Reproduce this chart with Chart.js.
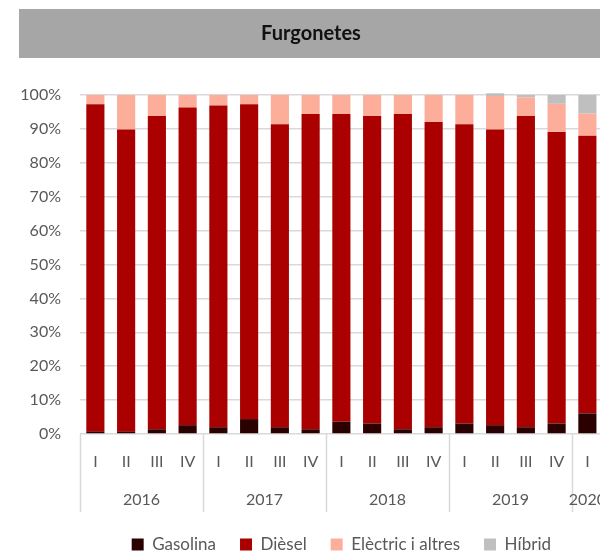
<!DOCTYPE html>
<html>
<head>
<meta charset="utf-8">
<script src="https://cdn.jsdelivr.net/npm/chart.js@4/dist/chart.umd.min.js"></script>
<style>
  html,body{margin:0;padding:0;background:#fff;overflow:hidden;}
  #wrap{width:610px;height:580px;position:relative;}
</style>
</head>
<body>
<div id="wrap"><canvas id="c"></canvas></div>
<script>
const title = "Furgonetes";
const quarters = ["I","II","III","IV","I","II","III","IV","I","II","III","IV","I","II","III","IV","I"];
const years = ["2016","2017","2018","2019","2020"];

const gasolina = [0.7,0.7,1.4,2.6, 2.0,4.4,2.0,1.4, 3.6,3.1,1.4,2.0, 3.1,2.6,2.0,3.1, 6.1];
const diesel   = [96.6,89.1,92.4,93.7, 94.9,92.9,89.4,93.0, 90.8,90.7,93.0,90.0, 88.3,87.2,91.8,86.0, 81.9];
const electric = [2.7,10.2,6.2,3.7, 3.1,2.7,8.6,5.6, 5.6,6.2,5.6,8.0, 8.6,9.9,5.5,8.3, 6.5];
const hibrid   = [0,0,0,0, 0,0,0,0, 0,0,0,0, 0,0.8,0.7,2.6, 5.5];

const FONT = "Lato";
const GREY_TXT = "#595959";
const GRID = "#d9d9d9";

// title bar + year groups under the quarter labels
const extras = {
  id: "extras",
  beforeDraw(ch){
    const ctx = ch.ctx;
    ctx.save();
    ctx.fillStyle = "#a6a6a6";
    ctx.fillRect(19, 9, ch.width - 19, 49);
    ctx.fillStyle = "#111";
    ctx.font = "bold 20px " + FONT;
    ctx.textAlign = "center";
    ctx.textBaseline = "middle";
    ctx.fillText(title, 311, 34);
    ctx.restore();
  },
  afterDraw(ch){
    const ctx = ch.ctx, x = ch.scales.x, area = ch.chartArea;
    const half = (x.getPixelForValue(1) - x.getPixelForValue(0)) / 2;
    const starts = [];
    quarters.forEach((q,i)=>{ if(q === "I") starts.push(i); });
    ctx.save();
    ctx.strokeStyle = GRID;
    ctx.lineWidth = 1.5;
    ctx.fillStyle = GREY_TXT;
    ctx.font = "16px " + FONT;
    ctx.textAlign = "center";
    ctx.textBaseline = "middle";
    starts.forEach((s,g)=>{
      const end = g + 1 < starts.length ? starts[g+1] : quarters.length;
      const left = x.getPixelForValue(s) - half;
      ctx.beginPath();
      ctx.moveTo(Math.round(left) + 0.5, area.bottom);
      ctx.lineTo(Math.round(left) + 0.5, 512);
      ctx.stroke();
      const right = x.getPixelForValue(end - 1) + half;
      ctx.fillText(years[g], (left + right) / 2, 500);
    });
    ctx.restore();
  }
};

const ds = (label, data, color) => ({
  label, data, backgroundColor: color, borderWidth: 0,
  barPercentage: 0.59, categoryPercentage: 1, clip: false
});

new Chart(document.getElementById("c"), {
  type: "bar",
  data: {
    labels: quarters,
    datasets: [
      ds("Gasolina", gasolina, "#2b0000"),
      ds("Dièsel", diesel, "#aa0000"),
      ds("Elèctric i altres", electric, "#fcae9b"),
      ds("Híbrid", hibrid, "#bfbfbf")
    ]
  },
  options: {
    responsive: true,
    maintainAspectRatio: false,
    animation: false,
    layout: { padding: { top: 95, left: 0, right: 7.25, bottom: 17 } },
    plugins: {
      tooltip: { enabled: false },
      legend: {
        position: "bottom",
        fullSize: false,
        labels: {
          boxWidth: 12, boxHeight: 12, padding: 24,
          color: GREY_TXT,
          font: { family: FONT, size: 17 }
        }
      }
    },
    scales: {
      x: {
        stacked: true,
        grid: { display: false, drawTicks: false },
        border: { display: false },
        ticks: { color: GREY_TXT, font: { family: FONT, size: 16 }, padding: 18, autoSkip: false, maxRotation: 0 },
        afterFit(s){ s.height = 78; }
      },
      y: {
        stacked: true,
        min: 0, max: 100,
        grid: { color: GRID, lineWidth: 1.5, drawTicks: false },
        border: { display: false },
        ticks: {
          stepSize: 10, padding: 19, color: GREY_TXT,
          font: { family: FONT, size: 16 },
          callback: v => v + "%"
        },
        afterFit(s){ s.width = 80; }
      }
    }
  },
  plugins: [extras]
});
</script>
</body>
</html>
